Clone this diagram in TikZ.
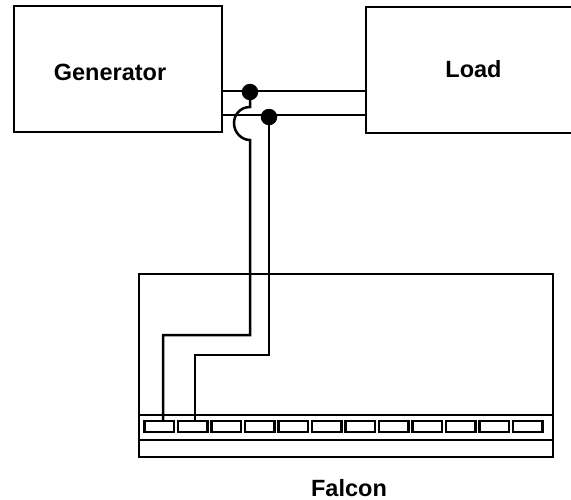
\documentclass[tikz,border=0pt]{standalone}
\usepackage{fontspec}
\setmainfont{Liberation Sans}
\tikzset{
  px/.style={x=1pt,y=-1pt},
  box/.style={draw=black,line width=2.5pt,fill=none,inner sep=0pt,outer sep=0pt,anchor=north west},
  wire/.style={draw=black,line width=2.5pt},
  termbox/.style={draw=black,line width=2.3pt,inner sep=0pt,outer sep=0pt,minimum width=29.5pt,minimum height=11pt,anchor=north west},
  junction/.style={circle,fill=black,draw=none,minimum size=16.5pt,inner sep=0pt},
  lbl/.style={font=\bfseries\fontsize{23.5}{26}\selectfont,text=black,anchor=base,inner sep=0pt}
}
\begin{document}
\begin{tikzpicture}[px]
\useasboundingbox (0,0) rectangle (571,499);
\node[box,minimum width=208pt,minimum height=126pt] (gen) at (14,6) {};
\node[box,minimum width=207pt,minimum height=126pt] (load) at (366,7) {};
\node[box,minimum width=414pt,minimum height=183pt] (falcon) at (139,274) {};
\node[lbl] (gent) at (110,80) {Generator};
\node[lbl] (loadt) at (473.5,77) {Load};
\node[lbl] (falt) at (349,496) {Falcon};
\coordinate (rail1a) at (139,415);
\coordinate (rail1b) at (553,415);
\coordinate (rail2a) at (139,440);
\coordinate (rail2b) at (553,440);
\draw[wire] (rail1a) -- (rail1b);
\draw[wire] (rail2a) -- (rail2b);
\foreach \i in {0,...,11} {
  \node[termbox] (t\i) at ({144.5+33.5*\i},421) {};
}
\coordinate (g1) at (222,91);
\coordinate (l1) at (366,91);
\coordinate (g2) at (222,115);
\coordinate (l2) at (366,115);
\draw[wire] (g1) -- (l1);
\draw[wire] (g2) -- (l2);
\node[junction] (j1) at (250,92) {};
\node[junction] (j2) at (269,117) {};
\coordinate (a1) at (250,140);
\coordinate (b1) at (250,335);
\coordinate (c1) at (163,335);
\coordinate (d1) at (163,421);
\coordinate (b2) at (269,355);
\coordinate (c2) at (195,355);
\coordinate (d2) at (195,421);
\draw[wire,line join=miter] (j1.center) -- (250,107) .. controls (240,107) and (234,115) .. (234,123) .. controls (234,133) and (242,140) .. (a1) -- (b1) -- (c1) -- (d1);
\draw[wire] (j2.center) -- (b2) -- (c2) -- (d2);
\end{tikzpicture}
\end{document}
